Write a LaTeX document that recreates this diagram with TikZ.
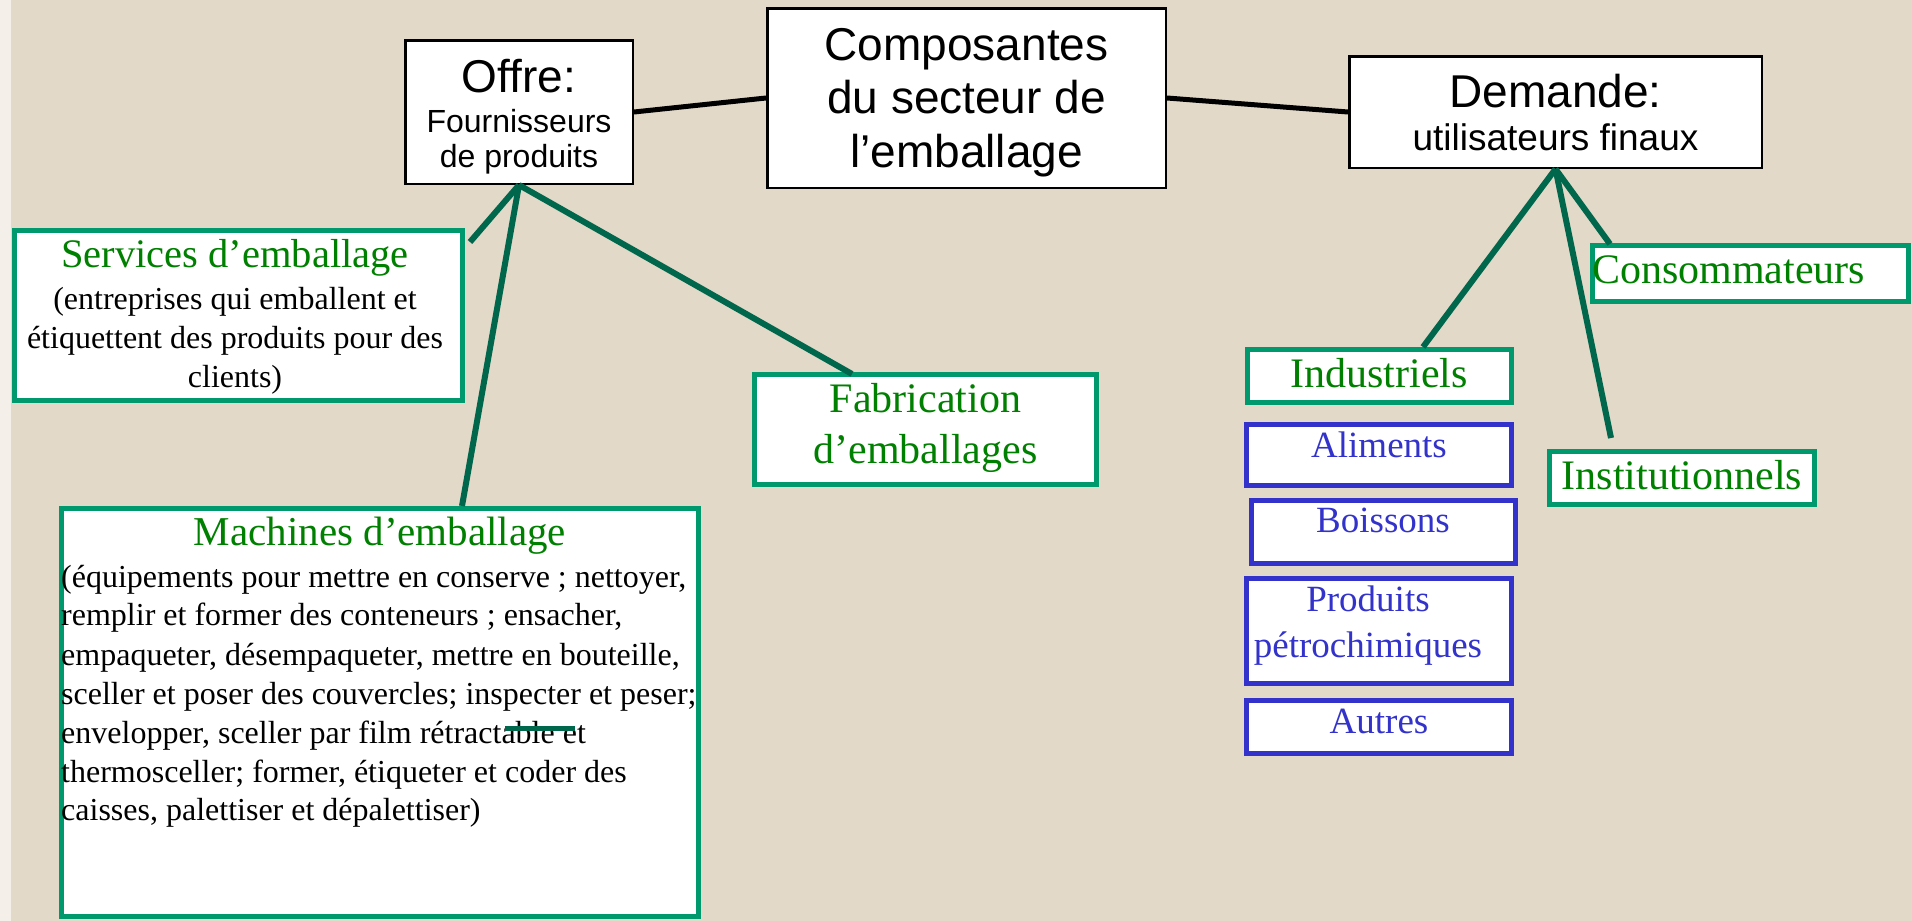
\documentclass[tikz,border=0pt]{standalone}
\usepackage{fontspec}
\setmainfont{Liberation Serif}
\setsansfont{Liberation Sans}
\definecolor{bgc}{RGB}{226,217,200}
\definecolor{tealb}{RGB}{0,153,110}
\definecolor{connc}{RGB}{0,102,76}
\definecolor{gtext}{RGB}{0,128,0}
\definecolor{bluec}{RGB}{51,51,204}
\newcommand{\fz}[1]{\fontsize{#1}{#1}\selectfont}
\tikzset{
  bbox/.style={draw=black, line width=2.5pt, fill=white, inner sep=0pt},
  gbox/.style={draw=tealb, line width=5pt, fill=white, inner sep=0pt},
  ubox/.style={draw=bluec, line width=5pt, fill=white, inner sep=0pt},
  conn/.style={draw=connc, line width=6pt},
  blk/.style={draw=black, line width=5pt},
  txt/.style={inner sep=0pt, anchor=base},
  txtl/.style={inner sep=0pt, anchor=base west},
  sbig/.style={font=\sffamily\fz{46}},
  gtitle/.style={text=gtext, font=\fz{41}},
  body/.style={text=black, font=\fz{32}},
  btxt/.style={text=bluec, font=\fz{37}},
}
\begin{document}
\begin{tikzpicture}[x=1pt,y=-1pt]
\useasboundingbox (0,0) rectangle (1912,921);
\fill[bgc] (0,0) rectangle (1912,921);
\fill[white!60!bgc] (0,0) rectangle (11,921);

% boxes
\node[bbox, minimum width=227.5pt, minimum height=143.5pt] (offre) at (519,112) {};
\node[bbox, minimum width=398.5pt, minimum height=179.5pt] (comp) at (966.5,98) {};
\node[bbox, minimum width=412.5pt, minimum height=111.5pt] (dem) at (1555.5,112) {};
\node[gbox, minimum width=448pt, minimum height=170pt] (serv) at (238.5,315.5) {};
\node[gbox, minimum width=637pt, minimum height=408pt] (mach) at (380,712.5) {};
\node[gbox, minimum width=342pt, minimum height=110pt] (fab) at (925.5,429.5) {};
\node[gbox, minimum width=264pt, minimum height=53pt] (ind) at (1379.5,376) {};
\node[ubox, minimum width=265pt, minimum height=61pt] (alim) at (1379,455) {};
\node[ubox, minimum width=264pt, minimum height=63pt] (bois) at (1383.5,532) {};
\node[ubox, minimum width=265pt, minimum height=105pt] (prod) at (1379,631) {};
\node[ubox, minimum width=265pt, minimum height=53pt] (autr) at (1379,727) {};
\node[gbox, minimum width=316pt, minimum height=56pt] (cons) at (1750.5,273.5) {};
\node[gbox, minimum width=265pt, minimum height=53pt] (inst) at (1682,478) {};

% connector end points
\coordinate (servend) at (470,242);
\coordinate (machtop) at (462,506);
\coordinate (fabtop) at (852,374);
\coordinate (indtop) at (1423,347);
\coordinate (instend) at (1611,438);
\coordinate (constop) at (1610,244);
\coordinate (barL) at (505,728);
\coordinate (barR) at (575,728);

% connectors
\draw[blk] (offre.east) -- (comp.west);
\draw[blk] (comp.east) -- (dem.west);
\draw[conn] (offre.south) -- (servend);
\draw[conn] (offre.south) -- (machtop);
\draw[conn] (offre.south) -- (fabtop);
\draw[conn] (dem.south) -- (indtop);
\draw[conn] (dem.south) -- (instend);
\draw[conn] (dem.south) -- (constop);

% texts
\node[txt, sbig] (t-offre1) at (519,92) {Offre:};
\node[txt, font=\sffamily\fz{32}] (t-offre2) at (519,132) {Fournisseurs};
\node[txt, font=\sffamily\fz{32}] (t-offre3) at (519,167) {de produits};

\node[txt, sbig] (t-comp1) at (966.5,60) {Composantes};
\node[txt, sbig] (t-comp2) at (966.5,113) {du secteur de};
\node[txt, sbig] (t-comp3) at (966.5,167) {l’emballage};

\node[txt, sbig] (t-dem1) at (1555.5,107) {Demande:};
\node[txt, font=\sffamily\fz{37}] (t-dem2) at (1555.5,150) {utilisateurs finaux};

\node[txt, text=gtext, font=\fz{40.5}] (t-serv1) at (235,267) {Services d’emballage};
\node[txt, body] (t-serv2) at (235,309) {(entreprises qui emballent et};
\node[txt, body] (t-serv3) at (235,348) {étiquettent des produits pour des};
\node[txt, body] (t-serv4) at (235,387) {clients)};

\node[txt, gtitle] (t-mach0) at (380,545) {Machines d’emballage};
\node[txtl, body] (t-mach1) at (61,587) {(équipements pour mettre en conserve ; nettoyer,};
\node[txtl, body] (t-mach2) at (61,625) {remplir et former des conteneurs ; ensacher,};
\node[txtl, body] (t-mach3) at (61,665) {empaqueter, désempaqueter, mettre en bouteille,};
\node[txtl, body] (t-mach4) at (61,704) {sceller et poser des couvercles; inspecter et peser;};
\node[txtl, body] (t-mach5) at (61,743) {envelopper, sceller par film rétractable et};
\node[txtl, body] (t-mach6) at (61,782) {thermosceller; former, étiqueter et coder des};
\node[txtl, body] (t-mach7) at (61,820) {caisses, palettiser et dépalettiser)};

\node[txt, text=gtext, font=\fz{42}] (t-fab1) at (925.5,412) {Fabrication};
\node[txt, text=gtext, font=\fz{42}] (t-fab2) at (925.5,463) {d’emballages};

\node[txt, text=gtext, font=\fz{42}] (t-ind) at (1379,387) {Industriels};
\node[txt, btxt] (t-alim) at (1379,457) {Aliments};
\node[txt, btxt] (t-bois) at (1383,532) {Boissons};
\node[txt, btxt] (t-prod1) at (1368,611) {Produits};
\node[txt, btxt] (t-prod2) at (1368,657) {pétrochimiques};
\node[txt, btxt] (t-autr) at (1379,733) {Autres};
\node[txtl, text=gtext, font=\fz{42}] (t-cons) at (1592,283) {Consommateurs};
\node[txt, text=gtext, font=\fz{42}] (t-inst) at (1682,489) {Institutionnels};

% stray bar over the text
\draw[conn, line width=5pt] (barL) -- (barR);
\end{tikzpicture}
\end{document}
